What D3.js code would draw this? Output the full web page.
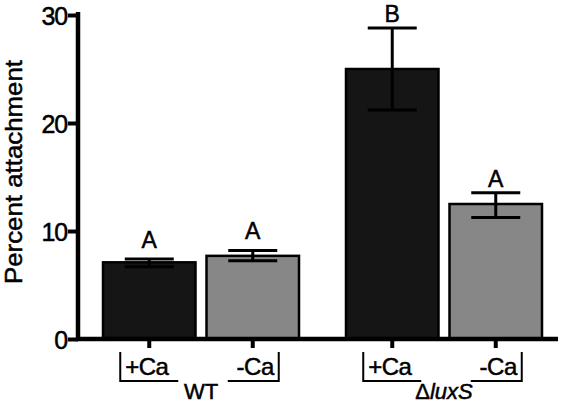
<!DOCTYPE html>
<html>
<head>
<meta charset="utf-8">
<script src="https://cdn.jsdelivr.net/npm/d3@7/dist/d3.min.js"></script>
<style>
  html, body { margin: 0; padding: 0; background: #fff; }
  text { font-family: "Liberation Sans", Arial, Helvetica, sans-serif; fill: #000; stroke: #000; stroke-width: 0.5px; }
</style>
</head>
<body>
<svg id="chart" width="566" height="404"></svg>
<script>
// ---- data ----
const groups = ["WT", "luxS"];
const conditions = ["+Ca", "-Ca"];
const means = [[7.1, 7.7], [25.0, 12.5]];
const errLow = [[6.7, 7.25], [21.2, 11.25]];
const errHigh = [[7.4, 8.2], [28.8, 13.55]];
const letters = [["A", "A"], ["B", "A"]];
const yTicks = [0, 10, 20, 30];
const yLabel = "Percent attachment";
const fills = ["#151515", "#878787"];

const svg = d3.select("#chart");

const y = d3.scaleLinear().domain([0, 30]).range([339, 15]);
const xGroup = d3.scaleBand().domain(groups).range([102, 543]).paddingInner(45 / 243).paddingOuter(0);
const xCond = d3.scaleBand().domain(conditions).range([0, xGroup.bandwidth()]).paddingInner(0.087).paddingOuter(0);

const flat = [];
groups.forEach((g, gi) => conditions.forEach((c, ci) => {
  flat.push({ g, c, gi, ci, v: means[gi][ci], lo: errLow[gi][ci], hi: errHigh[gi][ci], letter: letters[gi][ci] });
}));
const bx = d => xGroup(d.g) + xCond(d.c);
const cx = d => bx(d) + xCond.bandwidth() / 2;

// bars
svg.append("g").selectAll("rect").data(flat).join("rect")
  .attr("x", d => bx(d) + 1)
  .attr("width", xCond.bandwidth() - 2)
  .attr("y", d => y(d.v))
  .attr("height", d => y(0) - y(d.v))
  .attr("fill", d => fills[d.ci])
  .attr("stroke", "#000")
  .attr("stroke-width", 2.5);

// error bars
const eg = svg.append("g").attr("stroke", "#000").attr("stroke-width", 3);
flat.forEach(d => {
  const c = cx(d);
  eg.append("line").attr("x1", c).attr("x2", c).attr("y1", y(d.hi)).attr("y2", y(d.lo));
  eg.append("line").attr("x1", c - 24.5).attr("x2", c + 24.5).attr("y1", y(d.hi)).attr("y2", y(d.hi));
  eg.append("line").attr("x1", c - 24.5).attr("x2", c + 24.5).attr("y1", y(d.lo)).attr("y2", y(d.lo));
});

// significance letters
svg.append("g").selectAll("text").data(flat).join("text")
  .attr("x", d => cx(d))
  .attr("y", d => y(d.hi) - (d.gi === 0 ? 11 : 6))
  .attr("text-anchor", "middle")
  .attr("font-size", 23)
  .text(d => d.letter);

// y axis
const yAxis = svg.append("g").attr("transform", "translate(78,0)")
  .call(d3.axisLeft(y).tickValues(yTicks).tickSize(10).tickSizeOuter(0).tickPadding(1));
yAxis.select(".domain").attr("stroke-width", 4.5).attr("d", `M0,${y(0) + 2}V12`);
yAxis.selectAll(".tick line").attr("stroke-width", 4);
yAxis.selectAll(".tick text").attr("font-size", 25)
  .attr("font-family", "Liberation Sans, Arial, sans-serif")
  .attr("letter-spacing", "-1.2px").attr("dy", "0.36em");

// x axis line
svg.append("line").attr("x1", 76).attr("x2", 558).attr("y1", y(0)).attr("y2", y(0))
  .attr("stroke", "#000").attr("stroke-width", 4.5);
// x ticks
svg.append("g").selectAll("line").data(flat).join("line")
  .attr("x1", d => cx(d)).attr("x2", d => cx(d))
  .attr("y1", y(0)).attr("y2", y(0) + 9)
  .attr("stroke", "#000").attr("stroke-width", 4);

// condition labels with brackets
const lg = svg.append("g");
flat.forEach(d => {
  const c = cx(d);
  if (d.ci === 0) {
    const l = c - 29;
    lg.append("path").attr("d", `M${l},352V381H${c + 29}`).attr("fill", "none").attr("stroke", "#000").attr("stroke-width", 2);
    lg.append("text").attr("x", l + 5).attr("y", 375).attr("font-size", 24).attr("letter-spacing", "-0.5px").text(d.c);
  } else {
    const r = c + 26;
    lg.append("path").attr("d", `M${r},352V381H${c - 25}`).attr("fill", "none").attr("stroke", "#000").attr("stroke-width", 2);
    lg.append("text").attr("x", r - 5).attr("y", 375).attr("text-anchor", "end").attr("font-size", 24).attr("letter-spacing", "-0.5px").text(d.c);
  }
});

// group labels
groups.forEach((g, gi) => {
  const t = svg.append("text")
    .attr("x", xGroup(g) + xGroup.bandwidth() / 2)
    .attr("y", 399)
    .attr("text-anchor", "middle")
    .attr("font-size", 22);
  if (gi === 0) {
    t.text(g);
  } else {
    t.append("tspan").text("\u0394");
    t.append("tspan").attr("font-style", "italic").text(g);
  }
});

// y label
svg.append("text")
  .attr("transform", "translate(22,172) rotate(-90)")
  .attr("text-anchor", "middle")
  .attr("font-size", 24)
  .attr("textLength", 224)
  .attr("lengthAdjust", "spacingAndGlyphs")
  .text(yLabel);
</script>
</body>
</html>
